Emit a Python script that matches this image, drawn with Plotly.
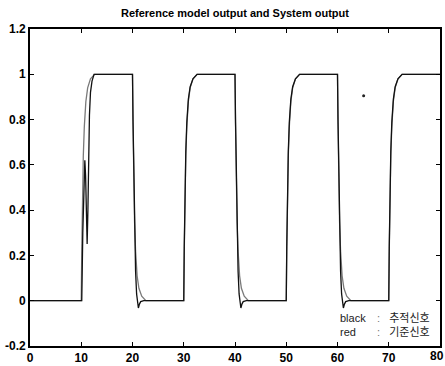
import plotly.graph_objects as go

# Reference model output (drawn gray in the scan; "red" in legend)
t_ref = [0, 10.0, 10.1, 10.25, 10.4, 10.6, 10.9, 11.25, 11.8, 12.6, 20.0,
         20.1, 20.25, 20.4, 20.6, 20.9, 21.25, 21.8, 22.6, 30.0,
         30.1, 30.25, 30.4, 30.6, 30.9, 31.25, 31.8, 32.6, 40.0,
         40.1, 40.25, 40.4, 40.6, 40.9, 41.25, 41.8, 42.6, 50.0,
         50.1, 50.25, 50.4, 50.6, 50.9, 51.25, 51.8, 52.6, 60.0,
         60.1, 60.25, 60.4, 60.6, 60.9, 61.25, 61.8, 62.6, 70.0,
         70.1, 70.25, 70.4, 70.6, 70.9, 71.25, 71.8, 72.6, 80.0]
y_ref = [0, 0, 0.22, 0.48, 0.64, 0.77, 0.88, 0.94, 0.98, 1.0, 1.0,
         0.78, 0.52, 0.35, 0.22, 0.11, 0.055, 0.02, 0.0, 0.0,
         0.22, 0.48, 0.64, 0.77, 0.88, 0.94, 0.98, 1.0, 1.0,
         0.78, 0.52, 0.35, 0.22, 0.11, 0.055, 0.02, 0.0, 0.0,
         0.22, 0.48, 0.64, 0.77, 0.88, 0.94, 0.98, 1.0, 1.0,
         0.78, 0.52, 0.35, 0.22, 0.11, 0.055, 0.02, 0.0, 0.0,
         0.22, 0.48, 0.64, 0.77, 0.88, 0.94, 0.98, 1.0, 1.0]

# System output (black, "추적신호")
t_sys = [0, 10.1, 10.3, 10.5, 10.7, 10.85, 11.0, 11.15, 11.3, 11.45, 11.6, 11.8, 12.1, 12.5, 20.0,
         20.1, 20.25, 20.4, 20.6, 20.8, 21.0, 21.15, 21.35, 21.6, 22.2, 30.0,
         30.1, 30.25, 30.4, 30.6, 30.9, 31.25, 31.8, 32.6, 40.0,
         40.1, 40.25, 40.4, 40.6, 40.8, 41.0, 41.15, 41.35, 41.6, 42.2, 50.0,
         50.1, 50.25, 50.4, 50.6, 50.9, 51.25, 51.8, 52.6, 60.0,
         60.1, 60.25, 60.4, 60.6, 60.8, 61.0, 61.15, 61.35, 61.6, 62.2, 70.0,
         70.1, 70.25, 70.4, 70.6, 70.9, 71.25, 71.8, 72.6, 80.0]
y_sys = [0, 0, 0.3, 0.52, 0.62, 0.55, 0.38, 0.25, 0.4, 0.65, 0.82, 0.92, 0.97, 1.0, 1.0,
         0.8, 0.52, 0.3, 0.13, 0.03, -0.02, -0.032, -0.015, -0.004, 0.0, 0.0,
         0.24, 0.5, 0.66, 0.79, 0.89, 0.945, 0.98, 1.0, 1.0,
         0.8, 0.52, 0.3, 0.13, 0.03, -0.02, -0.032, -0.015, -0.004, 0.0, 0.0,
         0.24, 0.5, 0.66, 0.79, 0.89, 0.945, 0.98, 1.0, 1.0,
         0.8, 0.52, 0.3, 0.13, 0.03, -0.02, -0.032, -0.015, -0.004, 0.0, 0.0,
         0.24, 0.5, 0.66, 0.79, 0.89, 0.945, 0.98, 1.0, 1.0]

# stray mark in the scan
dot_t = [65.1]
dot_y = [0.905]

x_ticks = [0, 10, 20, 30, 40, 50, 60, 70, 80]
x_tick_text = ["0", "10", "20", "30", "40", "50", "60", "70", "80"]
y_ticks = [-0.2, 0, 0.2, 0.4, 0.6, 0.8, 1.0, 1.2]
y_tick_text = ["-0.2", "0", "0.2", "0.4", "0.6", "0.8", "1", "1.2"]

title_text = "Reference model output and System output"
legend_keys = ["black", "red"]
legend_vals = ["추적신호", "기준신호"]
legend_rows_y = [-0.075, -0.137]

fig = go.Figure()
fig.add_trace(go.Scatter(x=t_ref, y=y_ref, mode="lines",
                         line=dict(color="#7a7a7a", width=1.3), showlegend=False))
fig.add_trace(go.Scatter(x=t_sys, y=y_sys, mode="lines",
                         line=dict(color="#111111", width=1.3), showlegend=False))
fig.add_trace(go.Scatter(x=dot_t, y=dot_y, mode="markers",
                         marker=dict(color="#222222", size=3), showlegend=False))

tick_font = dict(family="Liberation Sans, Arial", size=12, color="black", weight="bold")
axis_common = dict(showline=True, linecolor="black", linewidth=1.6, mirror="ticks",
                   ticks="inside", ticklen=4, tickwidth=1, tickcolor="black",
                   showgrid=False, zeroline=False, automargin=False,
                   ticklabeloverflow="allow", ticklabelstandoff=0, tickfont=tick_font)

# last x label sits at the right page edge: drawn as right-anchored text so it stays inside
fig.update_xaxes(range=[0, 80], tickvals=x_ticks,
                 ticktext=x_tick_text[:-1] + [""], **axis_common)
fig.update_yaxes(range=[-0.2, 1.2], tickvals=y_ticks, ticktext=y_tick_text, **axis_common)
fig.add_annotation(x=x_ticks[-1], y=0, xref="x", yref="paper", text=x_tick_text[-1],
                   showarrow=False, xanchor="right", yanchor="top", xshift=5, yshift=-2,
                   borderpad=0, font=tick_font)

leg_font = "Liberation Sans, Noto Sans CJK KR"
for k, v, yy in zip(legend_keys, legend_vals, legend_rows_y):
    fig.add_annotation(x=60.2, y=yy, xref="x", yref="y", text=k,
                       showarrow=False, xanchor="left", yanchor="middle",
                       borderpad=0,
                       font=dict(family=leg_font, size=11, color="#222"))
    fig.add_annotation(x=67.6, y=yy, xref="x", yref="y",
                       text='<span style="color:#777">:</span>&nbsp;&nbsp;&nbsp;' + v,
                       showarrow=False, xanchor="left", yanchor="middle",
                       borderpad=0,
                       font=dict(family=leg_font, size=11, color="#222"))

fig.update_layout(
    width=445, height=366, autosize=False,
    margin=dict(l=30, r=5, t=29, b=20),
    paper_bgcolor="white", plot_bgcolor="white",
    title=dict(text=title_text, x=0.528, xanchor="center", y=0.965, yanchor="middle",
               automargin=False,
               font=dict(family="Liberation Sans, Arial", size=11, color="black", weight="bold")),
)

fig.write_html("out.html", config={"displayModeBar": False},
               post_script="document.body.style.margin='0';document.body.style.overflow='hidden';")
